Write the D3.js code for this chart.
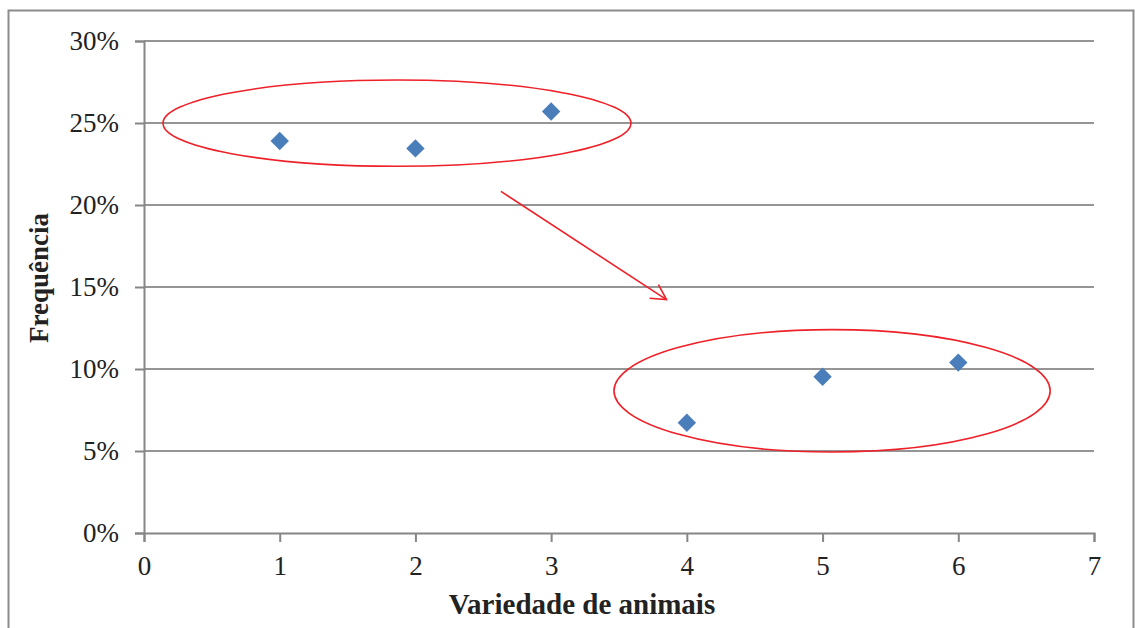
<!DOCTYPE html>
<html>
<head>
<meta charset="utf-8">
<script src="https://cdn.jsdelivr.net/npm/d3@7"></script>
<style>
  html, body { margin: 0; padding: 0; background: #fff; }
  svg { display: block; }
  text { font-family: "Liberation Serif", "DejaVu Serif", serif; fill: #222; }
</style>
</head>
<body>
<svg id="chart" width="1135" height="628"></svg>
<script>
// Number of animal varieties and the observed frequency for each
const varieties = [1, 2, 3, 4, 5, 6];
const frequencies = [0.239, 0.2345, 0.257, 0.0672, 0.0953, 0.1039];

// Axis ticks
const xTicks = [0, 1, 2, 3, 4, 5, 6, 7];
const yTicks = [0, 0.05, 0.10, 0.15, 0.20, 0.25, 0.30];

// Grouping ellipses (centre, radii in data units) and the arrow between groups
const groupCenters = [[1.864, 0.2499], [5.07, 0.0867]];
const groupRadii = [[1.724, 0.0263], [1.607, 0.0373]];
const arrowFrom = [2.63, 0.2083];
const arrowTo = [3.85, 0.1423];

const svg = d3.select("#chart");
const W = 1135, H = 628;
const margin = { left: 144, right: 41, top: 41, bottom: 95 };

// Outer frame
svg.append("path")
  .attr("d", `M8.5,${H + 2} V10.5 H${W - 1.5} V${H + 2}`)
  .attr("fill", "none")
  .attr("stroke", "#8c8c8c")
  .attr("stroke-width", 2);

const x = d3.scaleLinear().domain([0, 7]).range([margin.left, W - margin.right]);
const y = d3.scaleLinear().domain([0, 0.30]).range([H - margin.bottom, margin.top]);

// Horizontal gridlines
svg.append("g")
  .selectAll("line")
  .data(yTicks.filter(d => d > 0))
  .join("line")
  .attr("x1", x(0)).attr("x2", x(7))
  .attr("y1", d => y(d)).attr("y2", d => y(d))
  .attr("stroke", "#959595")
  .attr("stroke-width", 2);

// Y axis
const yAxis = svg.append("g")
  .attr("transform", `translate(${x(0)},0)`)
  .call(d3.axisLeft(y).tickValues(yTicks).tickFormat(d3.format(".0%")).tickSize(9).tickPadding(16));
yAxis.select(".domain").attr("stroke", "#868686").attr("stroke-width", 2);
yAxis.selectAll(".tick line").attr("stroke", "#868686").attr("stroke-width", 2);
yAxis.selectAll(".tick text")
  .attr("font-size", 27)
  .attr("font-family", "Liberation Serif, serif")
  .attr("fill", "#222");

// X axis
const xAxis = svg.append("g")
  .attr("transform", `translate(0,${y(0)})`)
  .call(d3.axisBottom(x).tickValues(xTicks).tickFormat(d3.format("d")).tickSize(9).tickPadding(14));
xAxis.select(".domain").attr("stroke", "#868686").attr("stroke-width", 2);
xAxis.selectAll(".tick line").attr("stroke", "#868686").attr("stroke-width", 2);
xAxis.selectAll(".tick text")
  .attr("font-size", 27)
  .attr("font-family", "Liberation Serif, serif")
  .attr("fill", "#222");

// Axis titles
svg.append("text")
  .attr("x", 582).attr("y", 614)
  .attr("text-anchor", "middle")
  .attr("font-size", 29)
  .attr("font-weight", "bold")
  .text("Variedade de animais");

svg.append("text")
  .attr("transform", "translate(48,278) rotate(-90)")
  .attr("text-anchor", "middle")
  .attr("font-size", 27)
  .attr("font-weight", "bold")
  .text("Frequência");

// Data points as diamonds
svg.append("g")
  .selectAll("path")
  .data(varieties.map((v, i) => [v, frequencies[i]]))
  .join("path")
  .attr("transform", d => `translate(${x(d[0])},${y(d[1])}) rotate(45)`)
  .attr("d", "M-6.5,-6.5H6.5V6.5H-6.5Z")
  .attr("fill", "#4a7ebb");

// Group ellipses
svg.append("g")
  .selectAll("ellipse")
  .data(groupCenters.map((c, i) => ({ c, r: groupRadii[i] })))
  .join("ellipse")
  .attr("cx", d => x(d.c[0]))
  .attr("cy", d => y(d.c[1]))
  .attr("rx", d => x(d.r[0]) - x(0))
  .attr("ry", d => y(0) - y(d.r[1]))
  .attr("fill", "none")
  .attr("stroke", "#ee2028")
  .attr("stroke-width", 1.6);

// Arrow from the upper group towards the lower group
const ax1 = x(arrowFrom[0]), ay1 = y(arrowFrom[1]);
const ax2 = x(arrowTo[0]), ay2 = y(arrowTo[1]);
const ang = Math.atan2(ay2 - ay1, ax2 - ax1);
const headLen = 17, headSpread = 0.5;
svg.append("line")
  .attr("x1", ax1).attr("y1", ay1).attr("x2", ax2).attr("y2", ay2)
  .attr("stroke", "#ee2028").attr("stroke-width", 1.6);
svg.append("path")
  .attr("d", `M${ax2 - headLen * Math.cos(ang - headSpread)},${ay2 - headLen * Math.sin(ang - headSpread)}
              L${ax2},${ay2}
              L${ax2 - headLen * Math.cos(ang + headSpread)},${ay2 - headLen * Math.sin(ang + headSpread)}`)
  .attr("fill", "none")
  .attr("stroke", "#ee2028").attr("stroke-width", 1.6);
</script>
</body>
</html>
